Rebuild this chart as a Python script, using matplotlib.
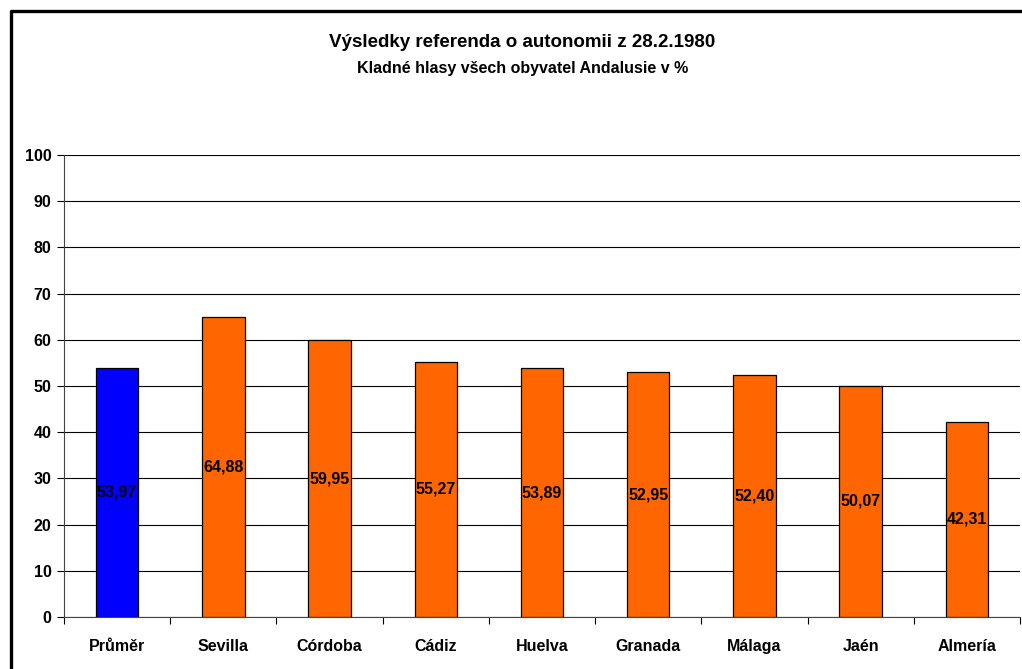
import matplotlib.pyplot as plt
from matplotlib.lines import Line2D
import numpy as np

plt.rcParams['font.family'] = ['Liberation Sans', 'DejaVu Sans']
plt.rcParams['font.weight'] = 'bold'

# data
regions = ["Průměr", "Sevilla", "Córdoba", "Cádiz", "Huelva",
           "Granada", "Málaga", "Jaén", "Almería"]
yes_pct = [53.97, 64.88, 59.95, 55.27, 53.89, 52.95, 52.40, 50.07, 42.31]
bar_colors = ["#0000FF"] + ["#FF6600"] * 8

fig = plt.figure(figsize=(10.22, 6.69), dpi=100)
ax = fig.add_axes([0.0626, 0.0777, 0.9354, 0.6906])

x = np.arange(len(regions))
bars = ax.bar(x, yes_pct, width=0.4, color=bar_colors, edgecolor="black",
              linewidth=0.9, zorder=3)

# value labels centred in the bars
for xi, v in zip(x, yes_pct):
    ax.text(xi, v / 2, f"{v:.2f}".replace(".", ","), ha="center", va="center",
            fontsize=11.5, fontweight="bold", zorder=4)

ax.set_xlim(-0.5, len(regions) - 0.5)
ax.set_ylim(0, 100)
ax.set_yticks(np.arange(0, 101, 10))
ax.yaxis.grid(True, color="black", linewidth=0.8, zorder=0)

ax.set_xticks(x)
ax.set_xticklabels(regions, fontsize=11.5, fontweight="bold")
ax.set_xticks(np.arange(-0.5, len(regions), 1), minor=True)
ax.tick_params(axis="x", which="major", length=0, pad=16)
ax.tick_params(axis="x", which="minor", length=5, width=0.8, direction="out")
ax.tick_params(axis="y", length=5, width=0.8, pad=4, labelsize=11.5)
for lab in ax.get_yticklabels():
    lab.set_fontweight("bold")

for s in ["top", "right"]:
    ax.spines[s].set_visible(False)
for s in ["left", "bottom"]:
    ax.spines[s].set_color("#444444")
    ax.spines[s].set_linewidth(0.8)

fig.text(0.511, 0.936, "Výsledky referenda o autonomii z 28.2.1980",
         ha="center", va="center", fontsize=13.5, fontweight="bold")
fig.text(0.511, 0.898, "Kladné hlasy všech obyvatel Andalusie v %",
         ha="center", va="center", fontsize=11.5, fontweight="bold")

# chart frame (top and left edges visible in the crop)
fig.add_artist(Line2D([0.0103, 0.0103, 1.0], [0.0, 0.984, 0.984],
                      transform=fig.transFigure, color="black", linewidth=2.4))

fig.savefig("out.png", dpi=100, facecolor="white")
